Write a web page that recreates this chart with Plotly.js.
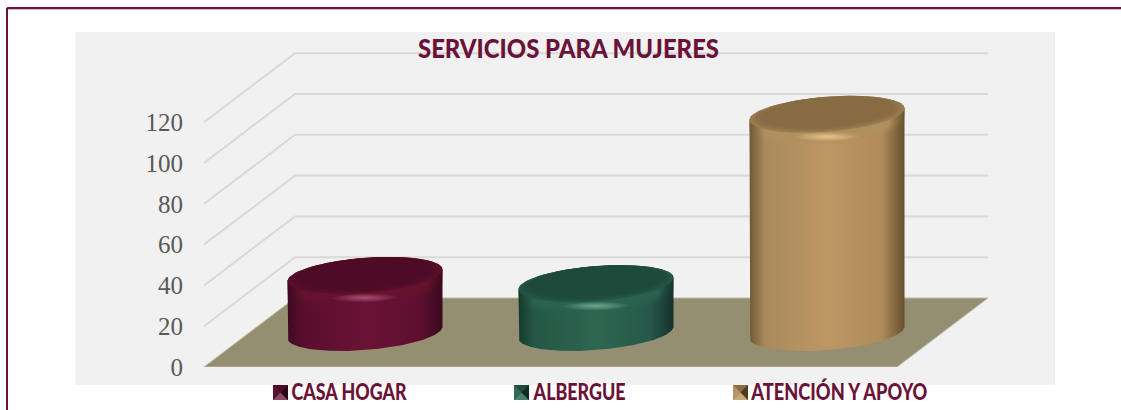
<!DOCTYPE html>
<html>
<head>
<meta charset="utf-8">
<script src="https://cdn.plot.ly/plotly-3.0.1.min.js"></script>
<style>html,body{margin:0;padding:0;background:#fff;overflow:hidden}</style>
</head>
<body>
<div id="chart" style="width:1121px;height:410px"></div>
<script>
// ---- data ----
const categories = ['CASA HOGAR', 'ALBERGUE', 'ATENCIÓN Y APOYO'];
const values = [28, 24, 107];
const tickValues = [0, 20, 40, 60, 80, 100, 120];
const gridValues = [20, 40, 60, 80, 100, 120];
const titleText = 'SERVICIOS PARA MUJERES';

// ---- styles ----
const palettes = [
  {face:'#4e0b26', lip:'#5a0e2c', band:'#65122f', edgeL:'#3e0a20', midL:'#5a0e2c', mid:'#6a1235', midR:'#5e0f2e', edgeR:'#3c0a1e', hi:'rgba(190,100,140,', icon:['#4e0b26','#5a1030','#8a4a66','#2c0514']},
  {face:'#1e4a3b', lip:'#245545', band:'#2a6150', edgeL:'#163a2d', midL:'#245745', mid:'#2d6651', midR:'#26584a', edgeR:'#14322a', hi:'rgba(130,190,165,', icon:['#1e4a3b','#2f6a58','#4a8070','#0f2b22']},
  {face:'#876b42', lip:'#9a7c50', band:'#b08f60', edgeL:'#6f5836', midL:'#a88a5c', mid:'#bd9763', midR:'#b08c5c', edgeR:'#66512f', hi:'rgba(250,215,155,', icon:['#876b42','#b39668','#c9a878','#4e3c20']}
];
const FONT_BOLD = 'Lato, "Noto Sans", sans-serif';
const TITLE_COLOR = '#6b1238';

// ---- geometry of the oblique 3-D projection, in axis units ----
const PLOT = {l:204, r:988, t:52, b:367};
const PX_PER_CAT = 231, PX_PER_VAL = 2.04, DEPTH_PX_X = 91, DEPTH_PX_Y = 69;
const DX = DEPTH_PX_X / PX_PER_CAT, DY = DEPTH_PX_Y / PX_PER_VAL;
const projX = (u, w) => u + w * DX;
const projY = (v, w) => v + w * DY;
const px = x => (x - PLOT.l) / (PLOT.r - PLOT.l);
const py = y => (PLOT.b - y) / (PLOT.b - PLOT.t);

const traces = [];

// gridlines
gridValues.forEach(v => traces.push({
  x: [projX(0,0), projX(0,1), projX(3,1)],
  y: [projY(v,0), projY(v,1), projY(v,1)],
  mode:'lines', line:{color:'#d9d9d9', width:2}, hoverinfo:'skip', showlegend:false
}));

// floor
traces.push({
  x: [projX(0,0), projX(3,0), projX(3,1), projX(0,1), projX(0,0)],
  y: [projY(0,0), projY(0,0), projY(0,1), projY(0,1), projY(0,0)],
  mode:'lines', fill:'toself', fillcolor:'#948f71', line:{color:'#bdb9a4', width:1},
  hoverinfo:'skip', showlegend:false
});

// cylinders
const RU = 0.3185, RW = 0.268, N = 90;
function ellipse(uc, v, scale, shiftV, from, to) {
  const xs = [], ys = [];
  for (let i = 0; i <= N; i++) {
    const t = from + (to - from) * i / N;
    const w = 0.5 + RW * scale * Math.sin(t);
    const u = uc + RU * scale * Math.cos(t);
    xs.push(projX(u, w));
    ys.push(projY(v + shiftV, w));
  }
  return {x: xs, y: ys};
}
const tRight = Math.atan2(RW * DX, RU);
categories.forEach((name, i) => {
  const p = palettes[i], uc = i + 0.5, v = values[i];
  const top = ellipse(uc, v, 1, 0, tRight, tRight + Math.PI);
  const bot = ellipse(uc, 0, 1, 0, tRight + Math.PI, tRight + 2 * Math.PI);
  traces.push({
    x: top.x.concat(bot.x, [top.x[0]]), y: top.y.concat(bot.y, [top.y[0]]),
    mode:'lines', line:{width:0}, fill:'toself', name: name, hoverinfo:'name', showlegend:false,
    fillgradient:{type:'horizontal', colorscale:[[0,p.edgeL],[0.1,p.midL],[0.5,p.mid],[0.85,p.midR],[1,p.edgeR]]}
  });
  // soft bevel below the lid
  [[-6.5,0.15],[-5.5,0.25],[-4.5,0.35],[-3.5,0.5],[-2.5,0.7],[-1.2,0.85]].forEach(([shift, op]) => {
    const e = ellipse(uc, v, 1, shift, 0, 2 * Math.PI);
    traces.push({x:e.x, y:e.y, mode:'lines', line:{width:0}, fill:'toself', opacity:op, hoverinfo:'skip', showlegend:false,
      fillgradient:{type:'horizontal', colorscale:[[0,p.edgeL],[0.1,p.band],[0.5,p.band],[0.9,p.band],[1,p.edgeR]]}});
  });
  // lid and face, blended by nested ellipses
  const lid = ellipse(uc, v, 1, 0, 0, 2 * Math.PI);
  traces.push({x:lid.x, y:lid.y, mode:'lines', line:{width:0}, fill:'toself', fillcolor:p.lip, hoverinfo:'skip', showlegend:false});
  [[0.96,0.3,0.35],[0.92,0.65,0.6]].forEach(([s, shift, op]) => {
    const e = ellipse(uc, v, s, shift, 0, 2 * Math.PI);
    traces.push({x:e.x, y:e.y, mode:'lines', line:{width:0}, fill:'toself', fillcolor:p.face, opacity:op, hoverinfo:'skip', showlegend:false});
  });
  const face = ellipse(uc, v, 0.87, 1.0, 0, 2 * Math.PI);
  traces.push({x:face.x, y:face.y, mode:'lines', line:{width:0}, fill:'toself', fillcolor:p.face, hoverinfo:'skip', showlegend:false});
  // highlight on the lip
  const hiX = [], hiY = [];
  for (let k = 0; k <= 40; k++) {
    const t = 2 * Math.PI * k / 40;
    const a = 0.15 * Math.cos(t);
    hiX.push(projX(uc + a, 0.5));
    hiY.push(projY(v - 11 + 2.2 * Math.sin(t) + a * 5, 0.5));
  }
  traces.push({x:hiX, y:hiY, mode:'lines', line:{width:0}, fill:'toself', hoverinfo:'skip', showlegend:false,
    fillgradient:{type:'radial', colorscale:[[0,p.hi+'0.75)'],[1,p.hi+'0)']]}});
});

// ---- page furniture ----
const border = '#6b1238';
const shapes = [
  {type:'rect', xref:'paper', yref:'paper', x0:px(75), x1:px(1055), y0:py(385), y1:py(32), fillcolor:'#f1f1f1', line:{width:0}, layer:'below'},
  {type:'line', xref:'paper', yref:'paper', x0:px(7), x1:px(1121), y0:py(8), y1:py(8), line:{color:border, width:2}, layer:'below'},
  {type:'line', xref:'paper', yref:'paper', x0:px(7), x1:px(7), y0:py(8), y1:py(410), line:{color:border, width:2}, layer:'below'},
  {type:'line', xref:'paper', yref:'paper', x0:px(8), x1:px(1121), y0:py(9.5), y1:py(9.5), line:{color:'#e3b8c8', width:1}, layer:'below'}
];
const legendX = [273, 514, 733], legendTextX = [292, 533, 751], legendTextW = [115, 92, 176], LEG_TOP = 385, LEG_S = 15;
const annotations = categories.map((c, i) => ({
  text: c, xref:'paper', yref:'paper', x:px(legendTextX[i] + legendTextW[i] / 2), y:py(391.5), xanchor:'center', yanchor:'middle', showarrow:false,
  font:{family:FONT_BOLD, size:22, color:TITLE_COLOR, weight:900}, borderpad:0
}));
categories.forEach((c, i) => {
  const x0 = legendX[i], x1 = x0 + LEG_S, y0 = LEG_TOP, y1 = y0 + LEG_S;
  const mx = (x0 + x1) / 2, my = (y0 + y1) / 2, ic = palettes[i].icon;
  shapes.push({type:'rect', xref:'paper', yref:'paper', x0:px(x0), x1:px(x1), y0:py(y1), y1:py(y0), fillcolor:ic[0], line:{width:0}});
  const tri = (ax, ay, bx, by, col) => shapes.push({type:'path', xref:'paper', yref:'paper', line:{width:0}, fillcolor:col,
    path:`M${px(ax)},${py(ay)} L${px(bx)},${py(by)} L${px(mx)},${py(my)} Z`});
  tri(x0,y0,x0,y1,ic[1]); tri(x0,y1,x1,y1,ic[2]); tri(x1,y0,x1,y1,ic[3]);
});

const layout = {
  width:1121, height:410, autosize:false,
  margin:{l:PLOT.l, r:1121-PLOT.r, t:PLOT.t, b:410-PLOT.b, pad:0},
  paper_bgcolor:'#ffffff', plot_bgcolor:'rgba(0,0,0,0)', showlegend:false,
  title:{text:titleText, x:568.5/1121, xanchor:'center', xref:'container', y:1-49/410, yref:'container', yanchor:'middle',
    font:{family:FONT_BOLD, size:27, color:TITLE_COLOR, weight:900}},
  xaxis:{range:[0, 3 + DX], visible:false, fixedrange:true},
  yaxis:{range:[0, (PLOT.b - PLOT.t) / PX_PER_VAL], tickmode:'array', tickvals:tickValues, ticktext:tickValues.map(String),
    showgrid:false, zeroline:false, showline:false, ticks:'', ticklabelstandoff:20, fixedrange:true,
    tickfont:{family:'"Liberation Serif", serif', size:25, color:'#595959'}},
  shapes, annotations
};
Plotly.newPlot('chart', traces, layout, {displayModeBar:false, staticPlot:true}).then(gd => {
  // The reference face is a condensed bold: fit the real text to the widths it has there.
  const fit = (el, w) => { el.setAttribute('textLength', w); el.setAttribute('lengthAdjust', 'spacingAndGlyphs'); };
  const t = gd.querySelector('.gtitle');
  if (t) fit(t, 301);
  gd.querySelectorAll('.annotation-text').forEach((el, i) => fit(el, legendTextW[i]));
});
</script>
</body>
</html>
